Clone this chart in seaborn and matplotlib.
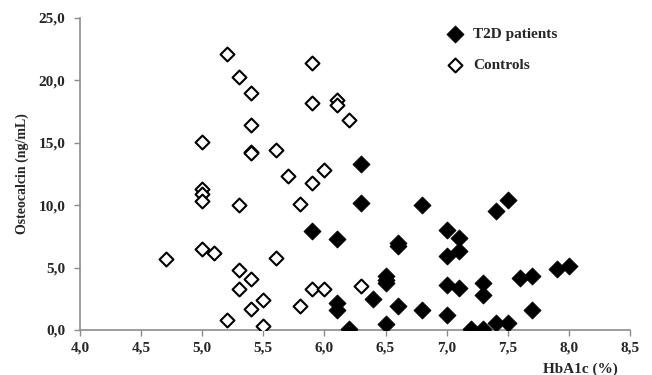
import pandas as pd
import matplotlib.pyplot as plt
import seaborn as sns

# HbA1c (%) and osteocalcin (ng/mL)
t2d_hba1c = [5.9, 6.1, 6.1, 6.1, 6.2, 6.3, 6.3, 6.4, 6.5, 6.5, 6.5, 6.5,
             6.6, 6.6, 6.6, 6.8, 6.8, 7.0, 7.0, 7.0, 7.0, 7.1, 7.1, 7.1,
             7.2, 7.3, 7.3, 7.3, 7.4, 7.4, 7.5, 7.5, 7.6, 7.7, 7.7, 7.9, 8.0]
t2d_osteo = [7.9, 7.3, 2.2, 1.6, 0.1, 13.3, 10.2, 2.5, 4.3, 4.0, 3.8, 0.5,
             7.0, 6.7, 1.9, 10.0, 1.6, 8.0, 5.9, 3.6, 1.2, 7.4, 6.3, 3.4,
             0.1, 3.8, 2.8, 0.05, 9.5, 0.6, 10.4, 0.6, 4.2, 4.3, 1.6, 4.9, 5.1]

ctrl_hba1c = [4.7, 5.0, 5.0, 5.0, 5.0, 5.0, 5.1, 5.2, 5.2, 5.3, 5.3, 5.3,
              5.3, 5.4, 5.4, 5.4, 5.4, 5.4, 5.4, 5.5, 5.5, 5.6, 5.6, 5.7,
              5.8, 5.8, 5.9, 5.9, 5.9, 5.9, 6.0, 6.0, 6.1, 6.1, 6.2, 6.3]
ctrl_osteo = [5.7, 15.1, 11.3, 10.9, 10.3, 6.5, 6.2, 22.1, 0.8, 20.3, 10.0, 4.8,
              3.3, 19.0, 16.4, 14.3, 14.2, 4.1, 1.7, 2.4, 0.3, 14.4, 5.8, 12.3,
              10.1, 1.9, 21.4, 18.2, 11.8, 3.3, 12.8, 3.3, 18.4, 18.0, 16.8, 3.5]

x_ticks = [4.0, 4.5, 5.0, 5.5, 6.0, 6.5, 7.0, 7.5, 8.0, 8.5]
y_ticks = [0, 5, 10, 15, 20, 25]

t2d = pd.DataFrame({'HbA1c': t2d_hba1c, 'Osteocalcin': t2d_osteo})
ctrl = pd.DataFrame({'HbA1c': ctrl_hba1c, 'Osteocalcin': ctrl_osteo})

sns.set_style('white')
plt.rcParams['font.family'] = ['Liberation Serif', 'DejaVu Serif']
plt.rcParams['font.weight'] = 'bold'

fig = plt.figure(figsize=(6.52, 3.75), dpi=100)
ax = fig.add_axes([80 / 652, 1 - 330 / 375, 550 / 652, 312 / 375])

sns.scatterplot(data=ctrl, x='HbA1c', y='Osteocalcin', marker='D', s=28,
                facecolor='white', edgecolor='black', linewidth=1.5,
                label='Controls', ax=ax, zorder=3)
sns.scatterplot(data=t2d, x='HbA1c', y='Osteocalcin', marker='D', s=38,
                color='black', edgecolor='black', linewidth=0.6,
                label='T2D patients', ax=ax, zorder=4)

ax.set_xlim(4.0, 8.5)
ax.set_ylim(0, 25)
ax.set_xticks(x_ticks)
ax.set_yticks(y_ticks)
ax.set_xticklabels([f'{v:.1f}'.replace('.', ',') for v in x_ticks])
ax.set_yticklabels([f'{v:.1f}'.replace('.', ',') for v in y_ticks])
ax.tick_params(axis='both', labelsize=11, length=4.5, width=1, color='#8c8c8c',
               direction='out', bottom=True, left=True)
ax.tick_params(axis='x', pad=4)
ax.tick_params(axis='y', pad=6)
for lab in ax.get_xticklabels() + ax.get_yticklabels():
    lab.set_fontweight('bold')

for side in ['top', 'right']:
    ax.spines[side].set_visible(False)
for side in ['left', 'bottom']:
    ax.spines[side].set_color('#8c8c8c')
    ax.spines[side].set_linewidth(1.2)

ax.set_xlabel('')
ax.set_ylabel('Osteocalcin (ng/mL)', fontsize=10, fontweight='bold')
ax.yaxis.set_label_coords(-51 / 550, 0.5)
fig.text(580 / 652, 1 - 369 / 375, 'HbA1c (%)', fontsize=11, fontweight='bold',
         ha='center', va='center')

handles, labels = ax.get_legend_handles_labels()
handles[0].set_sizes([50])
handles[1].set_sizes([75])
leg = ax.legend(handles[::-1], labels[::-1], loc='upper left',
                bbox_to_anchor=(426 / 652, 1 - 14 / 375),
                bbox_transform=fig.transFigure, frameon=False,
                fontsize=11, handletextpad=0.2, labelspacing=1.1)
for t in leg.get_texts():
    t.set_fontweight('bold')

fig.savefig('out.png', dpi=100)
